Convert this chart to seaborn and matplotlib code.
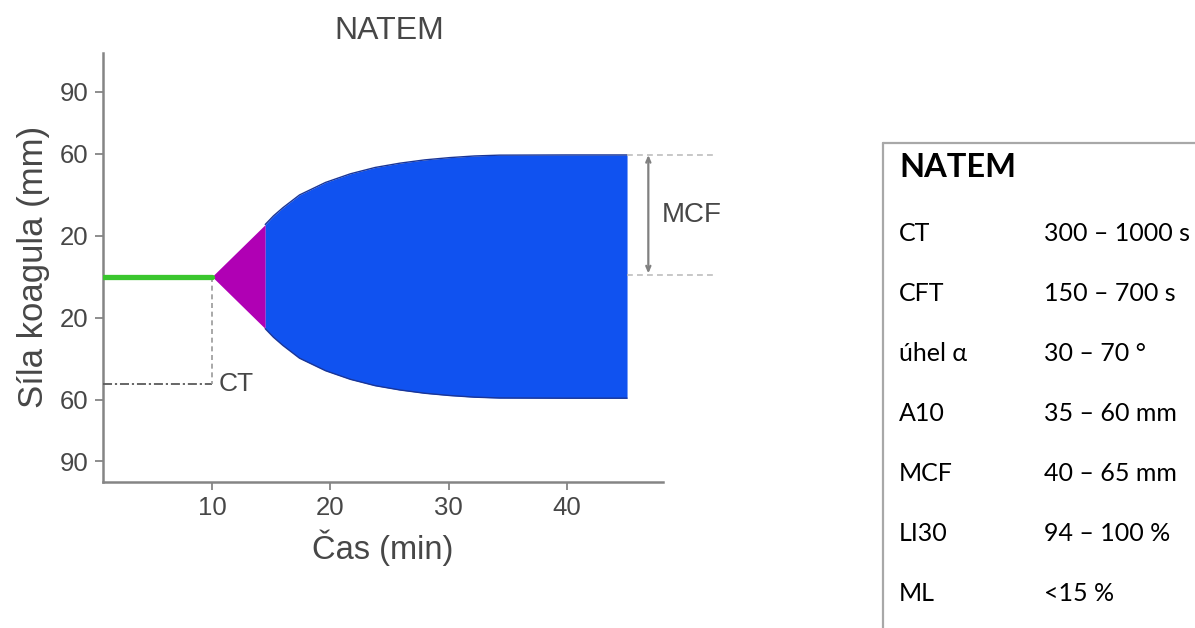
import matplotlib
matplotlib.use("Agg")
import matplotlib.pyplot as plt
import seaborn as sns
from matplotlib.lines import Line2D
import numpy as np

# NATEM thromboelastogram trace (clot amplitude in mm, mirrored around the baseline)
lag_time = [0.75, 10.0]
lag_amp = [0.0, 0.0]

alpha_time = [10.0, 14.5]
alpha_amp = [0.0, 25.4]

clot_time = [14.5, 15.2, 16.0, 17.4, 19.6, 21.7, 23.8, 25.9, 28.0, 30.1, 32.2, 34.3, 40.0, 45.1]
clot_amp = [25.4, 29.6, 33.6, 39.8, 45.9, 50.1, 53.2, 55.3, 56.9, 58.0, 58.8, 59.2, 59.3, 59.3]

ct_min = 10.0
ct_level = -52.5
mcf_amp = 59.3
mcf_x = 46.9

x_ticks = [10, 20, 30, 40]
y_ticks = [-90, -60, -20, 20, 60, 90]
y_tick_labels = ["90", "60", "20", "20", "60", "90"]

ref_title = "NATEM"
ref_params = ["CT", "CFT", "úhel α", "A10", "MCF", "LI30", "ML"]
ref_ranges = ["300 – 1000 s", "150 – 700 s", "30 – 70 °", "35 – 60 mm",
              "40 – 65 mm", "94 – 100 %", "<15 %"]

sns.set_style("ticks")
plt.rcParams["font.family"] = ["Liberation Sans", "DejaVu Sans"]

TXT = "#474747"
AX = "#858585"

fig = plt.figure(figsize=(11.95, 6.28), dpi=100)
ax = fig.add_axes([0.0859, 0.233, 0.4690, 0.6826])

# alpha-angle phase (purple) and clot firmness body (blue)
a = np.array(alpha_amp)
c = np.array(clot_amp)
ax.fill_between(alpha_time, -a, a, color="#b000b4", lw=0, zorder=2)
ax.fill_between(clot_time, -c, c, color="#1052f0", lw=0, zorder=2)
sns.lineplot(x=clot_time, y=clot_amp, color="#1a3596", lw=1.0, ax=ax, sort=False, zorder=3)
sns.lineplot(x=clot_time, y=list(-c), color="#1a3596", lw=1.0, ax=ax, sort=False, zorder=3)

# clotting-time baseline
sns.lineplot(x=lag_time, y=lag_amp, color="#3ac62e", lw=3.8, ax=ax, zorder=4)

# CT dimension line
ax.plot([lag_time[0], ct_min], [ct_level, ct_level], color="#5a5a5a", lw=1.3,
        ls=(0, (5, 1.6, 1.2, 1.6)), zorder=3)
ax.plot([ct_min, ct_min], [0, ct_level], color="#9a9a9a", lw=1.2,
        ls=(0, (3, 2.2)), zorder=3)
ax.text(ct_min + 0.55, ct_level, "CT", fontsize=19, color=TXT, va="center", ha="left")

# MCF dimension
for lvl in (mcf_amp, 0.6):
    ax.plot([clot_time[-1], 52.7], [lvl, lvl], color="#bdbdbd", lw=1.2,
            ls=(0, (3.5, 2.5)), clip_on=False, zorder=3)
ax.annotate("", xy=(mcf_x, mcf_amp), xytext=(mcf_x, 1.5),
            arrowprops=dict(arrowstyle="<->,head_length=0.35,head_width=0.15",
                            color="#808080", lw=1.6, shrinkA=0, shrinkB=0),
            annotation_clip=False)
ax.text(48.0, 30, "MCF", fontsize=20, color=TXT, va="center", ha="left")

ax.set_xlim(0.75, 48.15)
ax.set_ylim(-100, 109)
ax.set_xticks(x_ticks)
ax.set_xticklabels([str(t) for t in x_ticks])
ax.set_yticks(y_ticks)
ax.set_yticklabels(y_tick_labels)

for s in ("top", "right"):
    ax.spines[s].set_visible(False)
for s in ("left", "bottom"):
    ax.spines[s].set_color(AX)
    ax.spines[s].set_linewidth(1.8)
ax.tick_params(axis="both", colors=AX, labelcolor=TXT, labelsize=18.5,
               length=6, width=1.3, pad=4)

ax.set_xlabel("Čas (min)", fontsize=23.5, color=TXT, labelpad=7)
ax.set_ylabel("Síla koagula (mm)", fontsize=25, color=TXT, labelpad=7)
fig.text(389 / 1195, 1 - 31 / 628, "NATEM", fontsize=23, color=TXT,
         ha="center", va="center")

# reference ranges panel
box_left, box_top = 882.7 / 1195, 1 - 142.7 / 628
fig.add_artist(Line2D([box_left, box_left], [box_top, 0], color="#a8a8a8", lw=1.6,
                      transform=fig.transFigure))
fig.add_artist(Line2D([box_left, 1.0], [box_top, box_top], color="#a8a8a8", lw=1.6,
                      transform=fig.transFigure))
tfam = ["Lato", "Noto Sans", "DejaVu Sans"]
fig.text(899 / 1195, 1 - 168 / 628, ref_title, fontsize=23.5, fontweight="bold",
         color="black", family=tfam, ha="left", va="center")
for i, (p, r) in enumerate(zip(ref_params, ref_ranges)):
    y = 1 - (233.3 + 60 * i) / 628
    fig.text(899 / 1195, y, p, fontsize=18, color="black", family=tfam,
             ha="left", va="center")
    fig.text(1044 / 1195, y, r, fontsize=18, color="black", family=tfam,
             ha="left", va="center")

fig.savefig("out.png", dpi=100)
